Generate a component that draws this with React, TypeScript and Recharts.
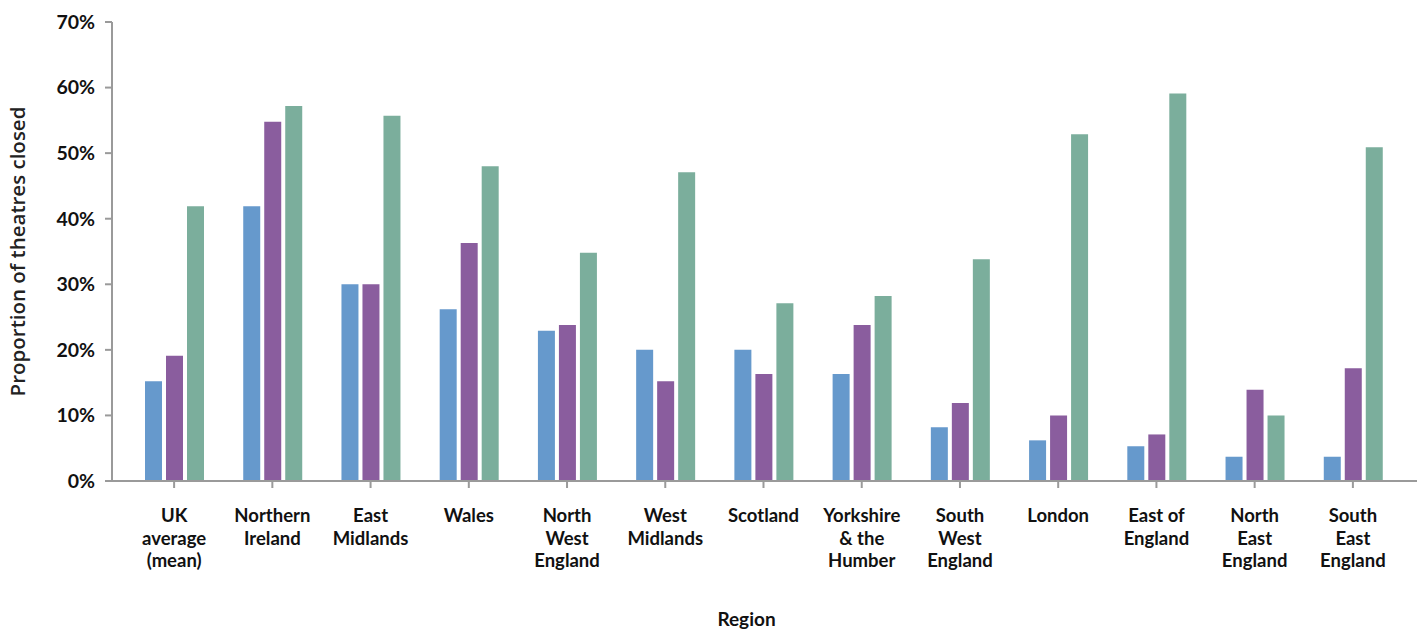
import React from "react";
import { BarChart, Bar, XAxis, YAxis, Label } from "recharts";

const categories = [
  "UK average (mean)",
  "Northern Ireland",
  "East Midlands",
  "Wales",
  "North West England",
  "West Midlands",
  "Scotland",
  "Yorkshire & the Humber",
  "South West England",
  "London",
  "East of England",
  "North East England",
  "South East England",
];

const tickLines: string[][] = [
  ["UK", "average", "(mean)"],
  ["Northern", "Ireland"],
  ["East", "Midlands"],
  ["Wales"],
  ["North", "West", "England"],
  ["West", "Midlands"],
  ["Scotland"],
  ["Yorkshire", "& the", "Humber"],
  ["South", "West", "England"],
  ["London"],
  ["East of", "England"],
  ["North", "East", "England"],
  ["South", "East", "England"],
];

const seriesA = [15.2, 41.9, 30, 26.2, 22.9, 20, 20, 16.3, 8.2, 6.2, 5.3, 3.7, 3.7];
const seriesB = [19.1, 54.8, 30, 36.3, 23.8, 15.2, 16.3, 23.8, 11.9, 10, 7.1, 13.9, 17.2];
const seriesC = [41.9, 57.2, 55.7, 48, 34.8, 47.1, 27.1, 28.2, 33.8, 52.9, 59.1, 10, 50.9];

const yTicks = [0, 10, 20, 30, 40, 50, 60, 70];

const data = categories.map((c, i) => ({
  name: c,
  a: seriesA[i],
  b: seriesB[i],
  c: seriesC[i],
}));

const FONT = "Lato, 'Noto Sans', sans-serif";

const XTick = (props: any) => {
  const { x, y, payload } = props;
  const lines = tickLines[payload.index] || [payload.value];
  return (
    <g>
      <text
        x={x}
        y={y}
        textAnchor="middle"
        fill="#111"
        fontFamily={FONT}
        fontWeight={700}
        fontSize={18.5}
      >
        {lines.map((l, i) => (
          <tspan key={i} x={x} dy={i === 0 ? 33 : 22.5}>
            {l}
          </tspan>
        ))}
      </text>
    </g>
  );
};

export default function App() {
  return (
    <div style={{ position: "absolute", left: 0, top: 0, background: "#fff" }}>
      <BarChart
        width={1423}
        height={630}
        data={data}
        margin={{ top: 22, right: 6, bottom: 0, left: 0 }}
        barSize={17}
        barGap={4}
      >
        <XAxis
          dataKey="name"
          interval={0}
          height={149}
          tick={<XTick />}
          tickSize={7}
          tickMargin={1}
          axisLine={{ stroke: "#9a9a9a", strokeWidth: 2 }}
          tickLine={{ stroke: "#9a9a9a", strokeWidth: 2 }}
          padding={{ left: 13, right: 15 }}
        >
          <Label
            value="Region"
            position="insideBottom"
            offset={4}
            dx={-18}
            style={{ fontFamily: FONT, fontWeight: 700, fontSize: 19, fill: "#111" }}
          />
        </XAxis>
        <YAxis
          width={112}
          domain={[0, 70]}
          ticks={yTicks}
          interval={0}
          tickFormatter={(v: number) => `${v}%`}
          tickSize={7}
          tickMargin={10}
          axisLine={{ stroke: "#9a9a9a", strokeWidth: 2 }}
          tickLine={{ stroke: "#9a9a9a", strokeWidth: 2 }}
          tick={{ fill: "#111", fontFamily: FONT, fontWeight: 700, fontSize: 19.5 }}
        >
          <Label
            value="Proportion of theatres closed"
            angle={-90}
            position="insideLeft"
            offset={18}
            style={{
              textAnchor: "middle",
              fontFamily: "'Open Sans', sans-serif",
              fontWeight: 600,
              fontSize: 20.5,
              fill: "#222",
            }}
          />
        </YAxis>
        <Bar dataKey="a" fill="#6699CC" isAnimationActive={false} />
        <Bar dataKey="b" fill="#8A5D9E" isAnimationActive={false} />
        <Bar dataKey="c" fill="#7BAE9C" isAnimationActive={false} />
      </BarChart>
    </div>
  );
}
